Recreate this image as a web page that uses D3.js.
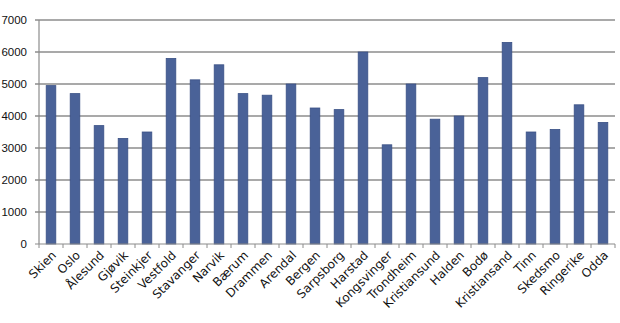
<!DOCTYPE html>
<html>
<head>
<meta charset="utf-8">
<script src="https://cdn.jsdelivr.net/npm/d3@7"></script>
<style>
  body { margin: 0; background: #fff; }
  svg { display: block; }
</style>
</head>
<body>
<div id="chart"></div>
<script>
const width = 620;
const height = 323;

const cities = [
  "Skien", "Oslo", "Ålesund", "Gjøvik", "Steinkjer", "Vestfold", "Stavanger",
  "Narvik", "Bærum", "Drammen", "Arendal", "Bergen", "Sarpsborg", "Harstad",
  "Kongsvinger", "Trondheim", "Kristiansund", "Halden", "Bodø", "Kristiansand",
  "Tinn", "Skedsmo", "Ringerike", "Odda"
];
const values = [
  4950, 4700, 3700, 3300, 3500, 5800, 5130,
  5600, 4700, 4650, 5000, 4250, 4200, 6000,
  3100, 5000, 3900, 4000, 5200, 6300,
  3500, 3580, 4350, 3800
];
const yTicks = [0, 1000, 2000, 3000, 4000, 5000, 6000, 7000];

const margin = {top: 20, right: 5, bottom: 79, left: 39};

const svg = d3.select("#chart")
  .append("svg")
  .attr("width", width)
  .attr("height", height);

const x = d3.scaleBand()
  .domain(cities)
  .range([margin.left, width - margin.right])
  .paddingInner(0.6)
  .paddingOuter(0.3);

const y = d3.scaleLinear()
  .domain([0, 7000])
  .range([height - margin.bottom, margin.top]);

// gridlines
svg.append("g")
  .selectAll("line")
  .data(yTicks.slice(1))
  .enter()
  .append("line")
  .attr("x1", margin.left - 4)
  .attr("x2", width - margin.right)
  .attr("y1", d => y(d))
  .attr("y2", d => y(d))
  .attr("stroke", "#8c8c8c")
  .attr("stroke-width", 1.3);

// y labels
svg.append("g")
  .selectAll("text")
  .data(yTicks)
  .enter()
  .append("text")
  .attr("x", 27)
  .attr("y", d => y(d) + 4)
  .attr("text-anchor", "end")
  .attr("font-family", "Liberation Sans, Arial, sans-serif")
  .attr("font-size", 11.5)
  .attr("fill", "#111")
  .text(d => d);

// bars
svg.append("g")
  .selectAll("rect")
  .data(values)
  .enter()
  .append("rect")
  .attr("x", (d, i) => x(cities[i]))
  .attr("y", d => y(d))
  .attr("width", x.bandwidth())
  .attr("height", d => y(0) - y(d))
  .attr("fill", "#4a6298")
  .attr("stroke", "#3a5185")
  .attr("stroke-width", 0.8);

// axes lines
svg.append("line")
  .attr("x1", margin.left).attr("x2", margin.left)
  .attr("y1", y(7000)).attr("y2", y(0))
  .attr("stroke", "#8c8c8c").attr("stroke-width", 1.2);

svg.append("line")
  .attr("x1", margin.left - 4).attr("x2", width - margin.right)
  .attr("y1", y(0)).attr("y2", y(0))
  .attr("stroke", "#8c8c8c").attr("stroke-width", 1.2);

// category boundary ticks
const plotW = width - margin.right - margin.left;
svg.append("g")
  .selectAll("line")
  .data(d3.range(cities.length + 1))
  .enter()
  .append("line")
  .attr("x1", i => margin.left + i * plotW / cities.length)
  .attr("x2", i => margin.left + i * plotW / cities.length)
  .attr("y1", y(0))
  .attr("y2", y(0) + 4)
  .attr("stroke", "#8c8c8c");

// x labels
svg.append("g")
  .selectAll("text")
  .data(cities)
  .enter()
  .append("text")
  .attr("transform", d => `translate(${x(d) + x.bandwidth() / 2 + 6},${y(0) + 12}) rotate(-45)`)
  .attr("text-anchor", "end")
  .attr("font-family", "DejaVu Sans, Verdana, sans-serif")
  .attr("font-size", 12)
  .attr("fill", "#111")
  .text(d => d);
</script>
</body>
</html>
